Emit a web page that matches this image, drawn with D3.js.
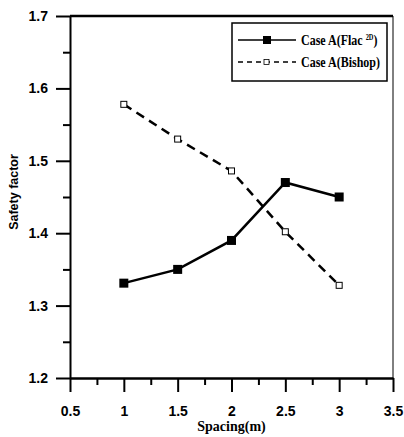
<!DOCTYPE html>
<html>
<head>
<meta charset="utf-8">
<script src="https://cdn.jsdelivr.net/npm/d3@7"></script>
<style>
  body { margin: 0; background: #fff; }
  .tick-label { font-family: "Liberation Sans", Arial, sans-serif; font-weight: bold; font-size: 14px; }
  .axis-title { font-family: "Liberation Serif", "Times New Roman", serif; font-weight: bold; font-size: 14px; }
  .legend-text { font-family: "Liberation Serif", "Times New Roman", serif; font-weight: bold; font-size: 15px; }
</style>
</head>
<body>
<div id="chart"></div>
<script>
const spacing = [1, 1.5, 2, 2.5, 3];
const flac = [1.331, 1.350, 1.390, 1.470, 1.450];
const bishop = [1.578, 1.530, 1.486, 1.402, 1.328];
const xTicks = [0.5, 1, 1.5, 2, 2.5, 3, 3.5];
const yTicks = [1.2, 1.3, 1.4, 1.5, 1.6, 1.7];

const width = 404, height = 437;
const plotLeft = 70, plotRight = 393, plotTop = 16, plotBottom = 378;

const svg = d3.select('#chart')
    .append('svg')
    .attr('width', width)
    .attr('height', height);

const x = d3.scaleLinear().domain([0.5, 3.5]).range([plotLeft, plotRight]);
const y = d3.scaleLinear().domain([1.2, 1.7]).range([plotBottom, plotTop]);

// frame: heavy top, thin right
svg.append('line')
    .attr('x1', plotLeft).attr('x2', plotRight).attr('y1', plotTop).attr('y2', plotTop)
    .attr('stroke', '#000').attr('stroke-width', 2.5);
svg.append('line')
    .attr('x1', plotRight).attr('x2', plotRight).attr('y1', plotTop).attr('y2', plotBottom)
    .attr('stroke', '#000').attr('stroke-width', 1);

// x axis
const xAxis = svg.append('g').attr('transform', `translate(0,${plotBottom})`)
    .call(d3.axisBottom(x).tickValues(xTicks).tickSize(14).tickSizeOuter(0).tickFormat(d3.format('')));
xAxis.select('.domain').attr('stroke-width', 2.5);
xAxis.selectAll('.tick line').attr('stroke-width', 2);
xAxis.selectAll('.tick text').attr('class', 'tick-label').attr('dy', '0').attr('y', 38);

svg.append('g').attr('transform', `translate(0,${plotBottom})`)
    .call(d3.axisBottom(x).tickValues(d3.range(0.75, 3.5, 0.5)).tickSize(7).tickFormat(''))
    .call(g => g.select('.domain').remove())
    .selectAll('.tick line').attr('stroke-width', 2);

// y axis
const yAxis = svg.append('g').attr('transform', `translate(${plotLeft},0)`)
    .call(d3.axisLeft(y).tickValues(yTicks).tickSize(14).tickSizeOuter(0).tickFormat(d3.format('.1f')));
yAxis.select('.domain').attr('stroke-width', 2);
yAxis.selectAll('.tick line').attr('stroke-width', 2);
yAxis.selectAll('.tick text').attr('class', 'tick-label').attr('x', -22);

svg.append('g').attr('transform', `translate(${plotLeft},0)`)
    .call(d3.axisLeft(y).tickValues(d3.range(1.25, 1.7, 0.1)).tickSize(7).tickFormat(''))
    .call(g => g.select('.domain').remove())
    .selectAll('.tick line').attr('stroke-width', 2);

// titles
svg.append('text')
    .attr('class', 'axis-title')
    .attr('x', (plotLeft + plotRight) / 2).attr('y', 431)
    .attr('text-anchor', 'middle')
    .text('Spacing(m)');

svg.append('text')
    .attr('class', 'tick-label')
    .style('font-size', '12.5px')
    .attr('transform', 'translate(18,192) rotate(-90)')
    .attr('text-anchor', 'middle')
    .text('Safety factor');

// series
const line = d3.line().x((d, i) => x(spacing[i])).y(d => y(d));

svg.append('path').datum(bishop)
    .attr('d', line).attr('fill', 'none')
    .attr('stroke', '#000').attr('stroke-width', 2.5)
    .attr('stroke-dasharray', '9,6');

svg.append('path').datum(flac)
    .attr('d', line).attr('fill', 'none')
    .attr('stroke', '#000').attr('stroke-width', 2.5);

svg.selectAll('.flac-pt').data(flac).join('rect')
    .attr('class', 'flac-pt')
    .attr('x', (d, i) => x(spacing[i]) - 4.5)
    .attr('y', d => y(d) - 4.5)
    .attr('width', 9).attr('height', 9)
    .attr('fill', '#000');

svg.selectAll('.bishop-pt').data(bishop).join('rect')
    .attr('class', 'bishop-pt')
    .attr('x', (d, i) => x(spacing[i]) - 3)
    .attr('y', d => y(d) - 3)
    .attr('width', 6).attr('height', 6)
    .attr('fill', '#fff').attr('stroke', '#000').attr('stroke-width', 1);

// legend
const legend = svg.append('g');
legend.append('rect')
    .attr('x', 232).attr('y', 23).attr('width', 155).attr('height', 58)
    .attr('fill', '#fff').attr('stroke', '#000').attr('stroke-width', 1.5);

legend.append('line').attr('x1', 238).attr('x2', 296).attr('y1', 40).attr('y2', 40)
    .attr('stroke', '#000').attr('stroke-width', 1.5);
legend.append('rect').attr('x', 263).attr('y', 36).attr('width', 8).attr('height', 8).attr('fill', '#000');

legend.append('line').attr('x1', 238).attr('x2', 296).attr('y1', 62).attr('y2', 62)
    .attr('stroke', '#000').attr('stroke-width', 1.5).attr('stroke-dasharray', '5,4');
legend.append('rect').attr('x', 264).attr('y', 59.5).attr('width', 5).attr('height', 5)
    .attr('fill', '#fff').attr('stroke', '#000').attr('stroke-width', 0.8);

// condensed serif like the original
const labels = legend.append('g').attr('transform', 'translate(301,0) scale(0.8,1)');
const t1 = labels.append('text').attr('class', 'legend-text').attr('x', 0).attr('y', 45);
t1.append('tspan').text('Case A(Flac ');
t1.append('tspan').attr('dy', -5).style('font-size', '8px').text('2D');
t1.append('tspan').attr('dy', 5).text(')');
labels.append('text').attr('class', 'legend-text').attr('x', 0).attr('y', 67).text('Case A(Bishop)');
</script>
</body>
</html>
